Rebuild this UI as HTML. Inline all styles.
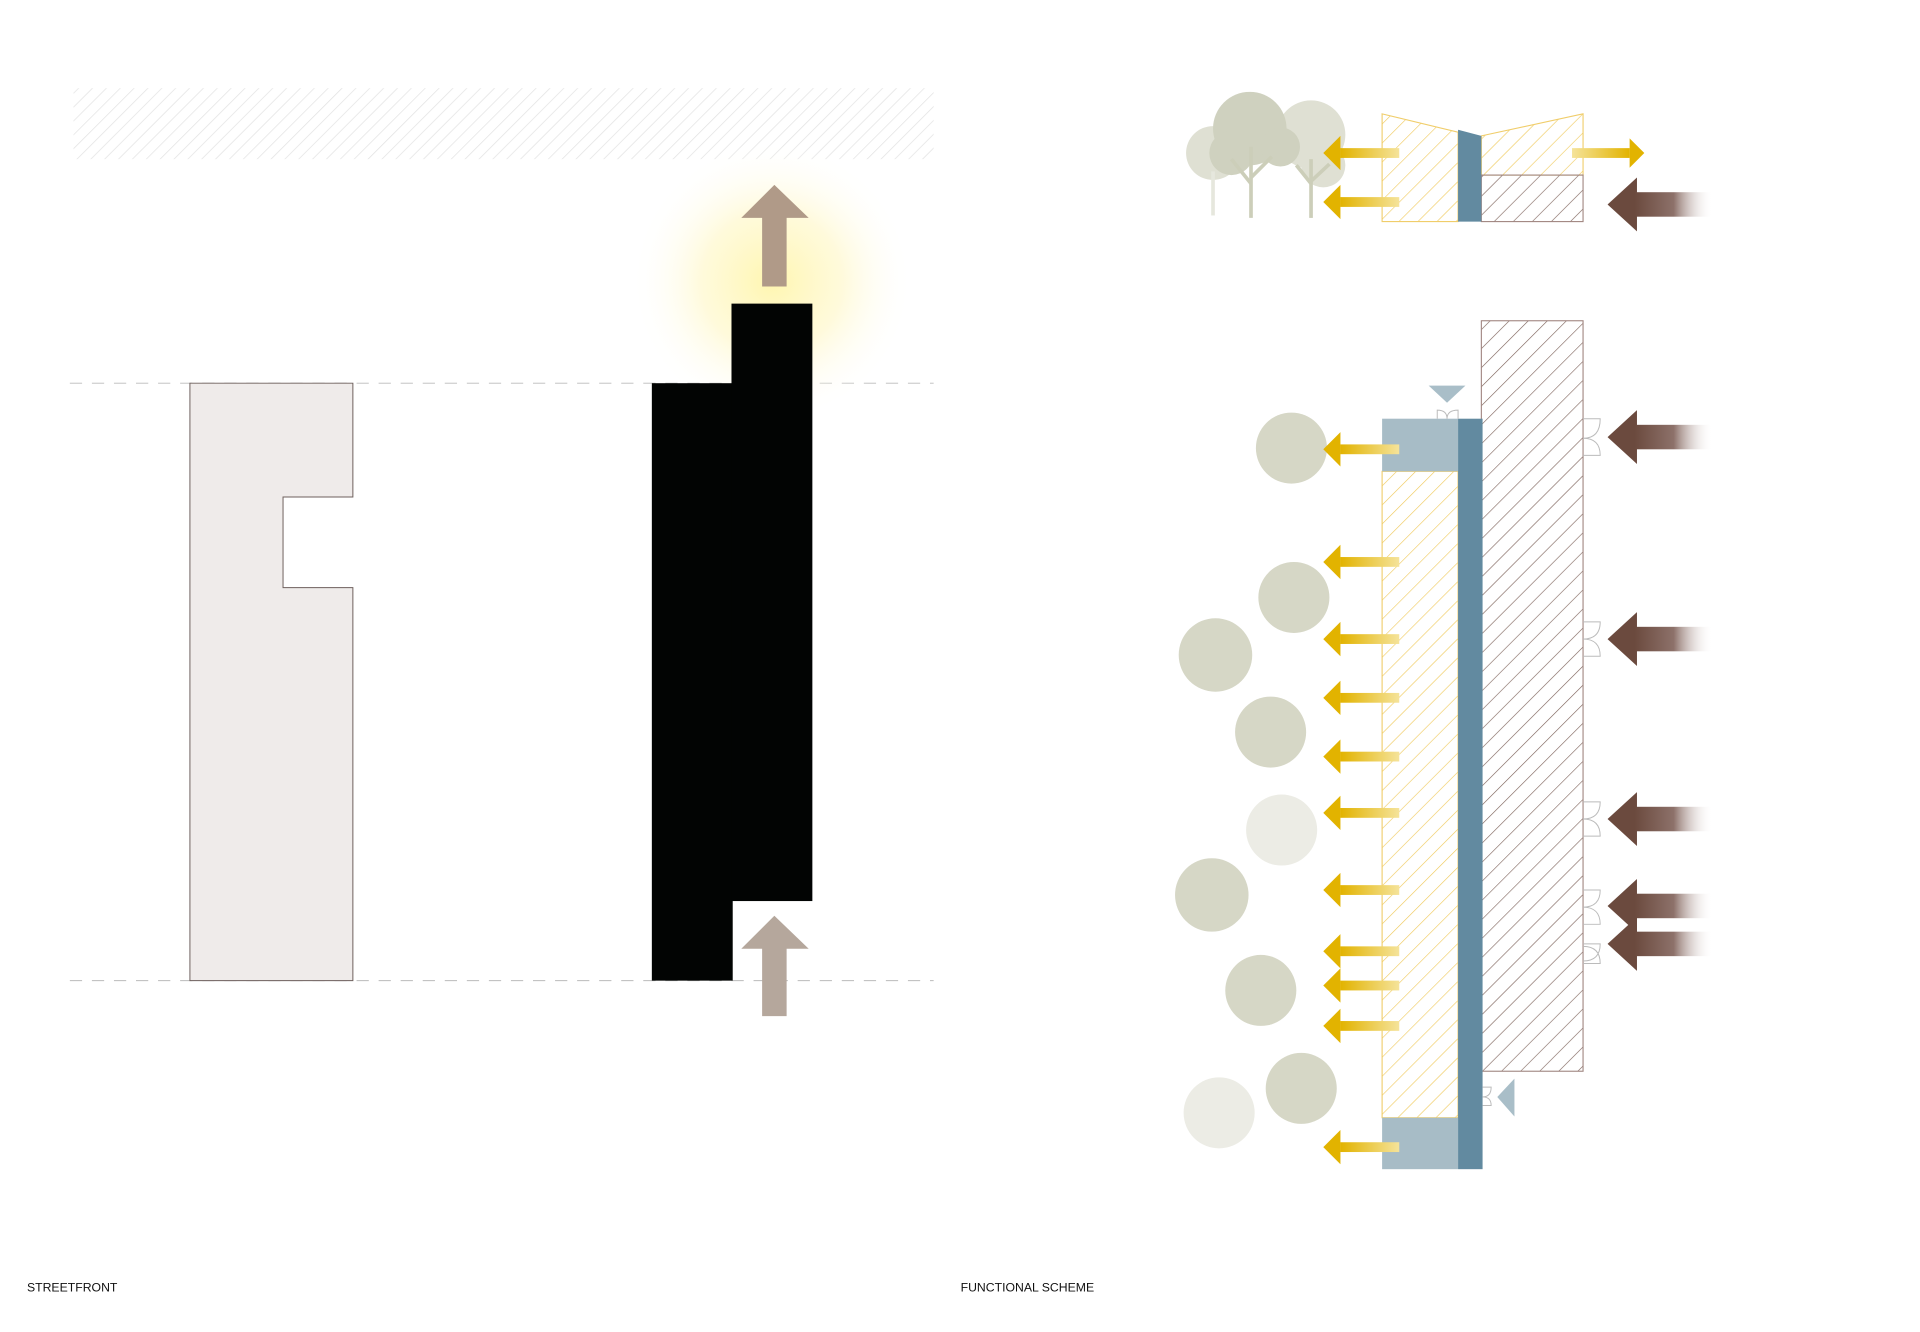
<!DOCTYPE html>
<html><head><meta charset="utf-8"><style>html,body{margin:0;padding:0;background:#fff}svg{display:block}</style></head>
<body>
<svg width="1920" height="1332" viewBox="0 0 1567 1088" preserveAspectRatio="none" xmlns="http://www.w3.org/2000/svg">
<defs>
<pattern id="hg" width="8" height="8" patternUnits="userSpaceOnUse" patternTransform="rotate(45)"><line x1="0" y1="0" x2="0" y2="8" stroke="#e3e3e3" stroke-width="1.2"/></pattern>
<pattern id="hy" width="11" height="11" patternUnits="userSpaceOnUse" patternTransform="rotate(45)"><line x1="0" y1="0" x2="0" y2="11" stroke="#efc95a" stroke-width="1"/></pattern>
<pattern id="hb" width="11" height="11" patternUnits="userSpaceOnUse" patternTransform="rotate(45)"><line x1="0" y1="0" x2="0" y2="11" stroke="#7d625a" stroke-width="1"/></pattern>
<radialGradient id="glow"><stop offset="0" stop-color="#fff6b0" stop-opacity="1"/><stop offset="0.5" stop-color="#fff8cc" stop-opacity="0.7"/><stop offset="1" stop-color="#fff" stop-opacity="0"/></radialGradient>
<linearGradient id="gy" x1="0" x2="1"><stop offset="0" stop-color="#e2b300"/><stop offset="1" stop-color="#f5e39a"/></linearGradient>
<linearGradient id="gyr" x1="0" x2="1"><stop offset="0" stop-color="#f5e39a"/><stop offset="1" stop-color="#e2b300"/></linearGradient>
<linearGradient id="gb" x1="0" x2="1"><stop offset="0" stop-color="#6b4a3e"/><stop offset="0.5" stop-color="#8d716a"/><stop offset="1" stop-color="#fff" stop-opacity="0"/></linearGradient>
<g id="ya"><polygon points="-62,0 -48,-14 -48,14" fill="#e2b300"/><rect x="-48" y="-4" width="48" height="8" fill="url(#gy)"/></g>
<g id="ba"><polygon points="0,0 24,-22 24,22" fill="#6b4a3e"/><rect x="22" y="-10" width="64" height="20" fill="url(#gb)"/></g>
</defs>

<rect x="60" y="72" width="702" height="58" fill="url(#hg)"/>
<line x1="57" y1="313" x2="762" y2="313" stroke="#bbb" stroke-width="0.8" stroke-dasharray="10,8"/>
<line x1="57" y1="801" x2="762" y2="801" stroke="#bbb" stroke-width="0.8" stroke-dasharray="10,8"/>
<circle cx="630" cy="230" r="115" fill="url(#glow)"/>
<polygon points="155,313 288,313 288,406 231,406 231,480 288,480 288,801 155,801" fill="#efebea" stroke="#6d5f5c" stroke-width="0.8"/>
<rect x="532" y="313" width="66" height="488" fill="#020403"/>
<rect x="597" y="248" width="66" height="488" fill="#020403"/>
<polygon points="605,178 632,151 660,178 642,178 642,234 622,234 622,178" fill="#b09a88"/>
<polygon points="605,775 632,748 660,775 642,775 642,830 622,830 622,775" fill="#b5a79c"/>

<g fill="#dfe0d3">
<circle cx="990" cy="125" r="22"/><circle cx="1070" cy="110" r="28"/><circle cx="1080" cy="135" r="18"/>
</g>
<g fill="#cfd1bf">
<circle cx="1020" cy="105" r="30"/><circle cx="1005" cy="125" r="18"/><circle cx="1045" cy="120" r="16"/>
</g>
<g stroke="#ccceb9" stroke-width="3" fill="none">
<line x1="1021" y1="178" x2="1021" y2="120"/><line x1="1070" y1="178" x2="1070" y2="130"/><line x1="990" y1="176" x2="990" y2="140" stroke="#e6e7dd"/>
<path d="M1021 150 L1005 130 M1021 145 L1038 128 M1070 150 L1058 135 M1070 148 L1085 134"/>
</g>

<polygon points="1128,93 1190,108 1190,181 1128,181" fill="url(#hy)" stroke="#f0cd6a" stroke-width="0.9"/>
<polygon points="1209,111 1292,93 1292,143 1209,143" fill="url(#hy)" stroke="#f0cd6a" stroke-width="0.9"/>
<rect x="1209" y="143" width="83" height="38" fill="url(#hb)" stroke="#a08580" stroke-width="0.9"/>
<polygon points="1190,106 1209,111 1209,181 1190,181" fill="#628aa0"/>
<use href="#ya" x="1142" y="125"/>
<use href="#ya" x="1142" y="165"/>
<rect x="1283" y="121" width="47" height="8" fill="url(#gyr)"/>
<polygon points="1330,113 1342,125 1330,137" fill="#e2b300"/>
<use href="#ba" x="1312" y="167"/>

<rect x="1209" y="262" width="83" height="613" fill="url(#hb)" stroke="#a08580" stroke-width="0.9"/>
<rect x="1128" y="385" width="62" height="528" fill="url(#hy)" stroke="#f0cd6a" stroke-width="0.9"/>
<rect x="1128" y="342" width="62" height="43" fill="#a7bcc6"/>
<rect x="1128" y="913" width="62" height="42" fill="#a7bcc6"/>
<rect x="1190" y="342" width="20" height="613" fill="#628aa0"/>
<polygon points="1166,315 1196,315 1181,329" fill="#a9bec8"/>
<polygon points="1236,881 1236,912 1222,896" fill="#a9bec8"/>
<g fill="none" stroke="#bbb" stroke-width="0.8">
<path d="M1173 342 v-7 q8 0 8 7 M1190 342 v-7 q-9 0 -9 7"/>
<path d="M1292 342 h14 q0 16 -14 16 M1292 372 h14 q0 -14 -14 -14"/>
<path d="M1292 508 h14 q0 14 -14 14 M1292 536 h14 q0 -14 -14 -14"/>
<path d="M1292 655 h14 q0 14 -14 14 M1292 683 h14 q0 -14 -14 -14"/>
<path d="M1292 727 h14 q0 14 -14 14 M1292 755 h14 q0 -14 -14 -14 M1292 771 h14 q0 14 -14 14 M1292 787 h14 q0 -14 -14 -14"/>
<path d="M1210 888 h7 q0 8 -7 8 M1210 903 h7 q0 -7 -7 -7"/>
</g>
<g fill="#d6d7c6">
<circle cx="1054" cy="366" r="29"/><circle cx="1056" cy="488" r="29"/><circle cx="992" cy="535" r="30"/>
<circle cx="1037" cy="598" r="29"/><circle cx="989" cy="731" r="30"/><circle cx="1029" cy="809" r="29"/><circle cx="1062" cy="889" r="29"/>
</g>
<g fill="#ecece5"><circle cx="1046" cy="678" r="29"/><circle cx="995" cy="909" r="29"/></g>
<use href="#ya" x="1142" y="367"/>
<use href="#ya" x="1142" y="459"/>
<use href="#ya" x="1142" y="522"/>
<use href="#ya" x="1142" y="570"/>
<use href="#ya" x="1142" y="618"/>
<use href="#ya" x="1142" y="664"/>
<use href="#ya" x="1142" y="727"/>
<use href="#ya" x="1142" y="777"/>
<use href="#ya" x="1142" y="805"/>
<use href="#ya" x="1142" y="838"/>
<use href="#ya" x="1142" y="937"/>
<use href="#ba" x="1312" y="357"/>
<use href="#ba" x="1312" y="522"/>
<use href="#ba" x="1312" y="669"/>
<use href="#ba" x="1312" y="740"/>
<use href="#ba" x="1312" y="771"/>

<text x="22" y="1055" font-family="Liberation Sans, sans-serif" font-size="10" fill="#111">STREETFRONT</text>
<text x="784" y="1055" font-family="Liberation Sans, sans-serif" font-size="10" fill="#111">FUNCTIONAL SCHEME</text>
</svg>
</body></html>
